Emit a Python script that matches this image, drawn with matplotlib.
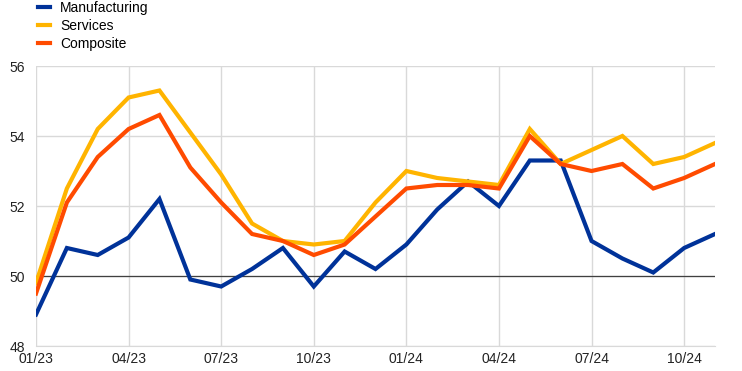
"""
PMI lines: manufacturing, services and composite, 01/23 to 11/24.
"""

import numpy
import matplotlib
matplotlib.use('Agg')
import matplotlib.pyplot as plt


# Monthly values (01/23 .. 11/24)

months = ['01/23', '02/23', '03/23', '04/23', '05/23', '06/23', '07/23', '08/23',
          '09/23', '10/23', '11/23', '12/23', '01/24', '02/24', '03/24', '04/24',
          '05/24', '06/24', '07/24', '08/24', '09/24', '10/24', '11/24']

manufacturing = [48.9, 50.8, 50.6, 51.1, 52.2, 49.9, 49.7, 50.2, 50.8, 49.7, 50.7, 50.2,
                 50.9, 51.9, 52.7, 52.0, 53.3, 53.3, 51.0, 50.5, 50.1, 50.8, 51.2]
services = [49.8, 52.5, 54.2, 55.1, 55.3, 54.1, 52.9, 51.5, 51.0, 50.9, 51.0, 52.1,
            53.0, 52.8, 52.7, 52.6, 54.2, 53.2, 53.6, 54.0, 53.2, 53.4, 53.8]
composite = [49.5, 52.1, 53.4, 54.2, 54.6, 53.1, 52.1, 51.2, 51.0, 50.6, 50.9, 51.7,
             52.5, 52.6, 52.6, 52.5, 54.0, 53.2, 53.0, 53.2, 52.5, 52.8, 53.2]

tick_months = ['01/23', '04/23', '07/23', '10/23', '01/24', '04/24', '07/24', '10/24']

plt.rcParams['font.family'] = ['Liberation Sans', 'DejaVu Sans']

fig = plt.figure(figsize=(7.42, 3.71), dpi=100)
ax = fig.add_axes([36/742, 1 - 346/371, (715 - 36)/742, (346 - 66)/371])

x = numpy.arange(len(months))

ax.plot(x, manufacturing, color='#003299', lw=3.0, label='Manufacturing',
        solid_joinstyle='miter', zorder=3)
ax.plot(x, services, color='#FFB400', lw=3.0, label='Services',
        solid_joinstyle='miter', zorder=3)
ax.plot(x, composite, color='#FF4B00', lw=3.0, label='Composite',
        solid_joinstyle='miter', zorder=4)

ax.axhline(50, color='#404040', lw=0.9, zorder=2)

ax.set_xlim(0, len(months) - 1)
ax.set_ylim(48, 56)
ax.set_yticks([48, 50, 52, 54, 56])
ax.set_xticks([months.index(m) for m in tick_months])
ax.set_xticklabels(tick_months)

ax.grid(True, color='#d9d9d9', lw=1.0, zorder=1)
for s in ['top', 'right', 'left']:
    ax.spines[s].set_visible(False)
ax.spines['bottom'].set_color('#d9d9d9')
ax.tick_params(length=0, labelsize=10, colors='#222222', pad=4)
ax.tick_params(axis='y', pad=8)

fig.legend(loc='upper left', bbox_to_anchor=(37/742, 1.0), frameon=False,
           fontsize=10, handlelength=0.85, handletextpad=0.75,
           labelspacing=0.3, borderpad=0.05, borderaxespad=0)

fig.savefig('out.png', dpi=100)
